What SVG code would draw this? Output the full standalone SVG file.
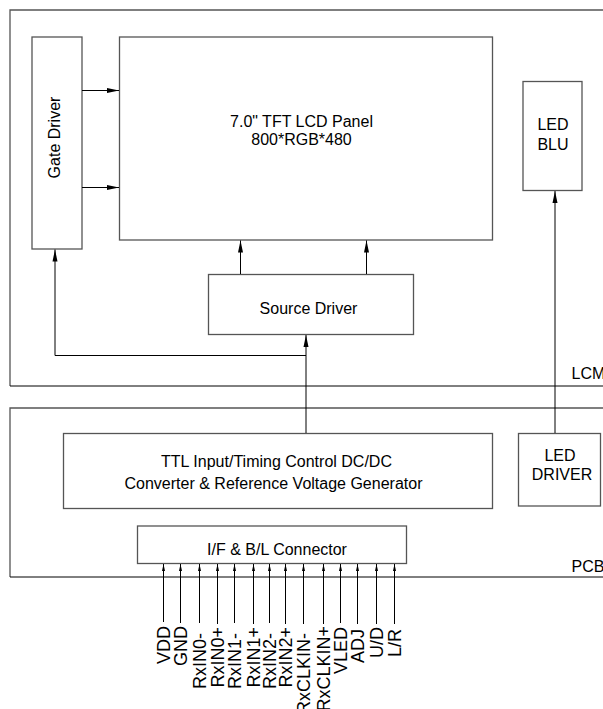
<svg xmlns="http://www.w3.org/2000/svg" width="603" height="709" viewBox="0 0 603 709">
<style>
.box{fill:#fff;stroke:#555;stroke-width:1.3}
.frame{fill:none;stroke:#555;stroke-width:1.3}
.ln{fill:none;stroke:#000;stroke-width:1}
.t{font-family:"Liberation Sans",Arial,sans-serif;font-size:16px;fill:#000}
.p{font-family:"Liberation Sans",Arial,sans-serif;font-size:18px;fill:#000;text-anchor:end}
.m{text-anchor:middle}
</style>
<defs>
<marker id="a" markerUnits="userSpaceOnUse" markerWidth="13" markerHeight="6" refX="12" refY="3" orient="auto">
<path d="M0,0.5 L12,3 L0,5.5 z" fill="#000"/>
</marker>
<marker id="s" markerUnits="userSpaceOnUse" markerWidth="8" markerHeight="4" refX="7" refY="2" orient="auto">
<path d="M0,0.5 L7,2 L0,3.5 z" fill="#000"/>
</marker>
</defs>
<rect width="603" height="709" fill="#fff"/>
<g id="lcm">
<path class="frame" d="M620,10 H10 V386"/>
<line x1="10" y1="386" x2="620" y2="386" stroke="#000" stroke-width="1"/>
<text class="t" x="571.5" y="379">LCM</text>
</g>
<g id="pcb">
<path class="frame" d="M620,408 H10 V577"/>
<line x1="10" y1="577" x2="620" y2="577" stroke="#000" stroke-width="1"/>
<text class="t" x="571.5" y="572">PCB</text>
</g>
<g id="gate-driver">
<rect class="box" x="32" y="37" width="50" height="212"/>
<text class="t m" transform="translate(60,137.5) rotate(-90)">Gate Driver</text>
</g>
<g id="panel">
<rect class="box" x="119.5" y="37" width="373" height="203"/>
<text class="t m" x="301.5" y="126.5">7.0" TFT LCD Panel</text>
<text class="t m" x="301.5" y="145">800*RGB*480</text>
</g>
<g id="led-blu">
<rect class="box" x="523" y="81.5" width="59" height="109"/>
<text class="t m" x="553" y="130">LED</text>
<text class="t m" x="553" y="150">BLU</text>
</g>
<g id="source-driver">
<rect class="box" x="208.5" y="274.5" width="205" height="60"/>
<text class="t m" x="308.5" y="314">Source Driver</text>
</g>
<g id="ttl">
<rect class="box" x="63.5" y="433.5" width="429" height="75"/>
<text class="t m" x="276.5" y="466.5">TTL Input/Timing Control DC/DC</text>
<text class="t m" x="273.5" y="488.5">Converter &amp; Reference Voltage Generator</text>
</g>
<g id="led-driver">
<rect class="box" x="518.5" y="433.5" width="82" height="72.5"/>
<text class="t m" x="560" y="461">LED</text>
<text class="t m" x="562" y="480">DRIVER</text>
</g>
<g id="connector">
<rect class="box" x="137.5" y="526" width="269" height="37.5"/>
<text class="t m" x="277" y="555">I/F &amp; B/L Connector</text>
</g>
<g id="connectors">
<line class="ln" x1="82" y1="90.5" x2="119" y2="90.5" marker-end="url(#a)"/>
<line class="ln" x1="82" y1="187.5" x2="119" y2="187.5" marker-end="url(#a)"/>
<line class="ln" x1="240.5" y1="274" x2="240.5" y2="240.5" marker-end="url(#a)"/>
<line class="ln" x1="366.5" y1="274" x2="366.5" y2="240.5" marker-end="url(#a)"/>
<line class="ln" x1="306" y1="433" x2="306" y2="335" marker-end="url(#a)"/>
<path class="ln" d="M306,355.5 H55 V249.5" marker-end="url(#a)"/>
<line class="ln" x1="555" y1="433" x2="555" y2="191" marker-end="url(#a)"/>
<g marker-end="url(#s)">
<line class="ln" x1="163.5" y1="622" x2="163.5" y2="564"/>
<line class="ln" x1="180.5" y1="623" x2="180.5" y2="564"/>
<line class="ln" x1="199.5" y1="623" x2="199.5" y2="564"/>
<line class="ln" x1="217.5" y1="624" x2="217.5" y2="564"/>
<line class="ln" x1="234.5" y1="623" x2="234.5" y2="564"/>
<line class="ln" x1="253.5" y1="624" x2="253.5" y2="564"/>
<line class="ln" x1="269.5" y1="623" x2="269.5" y2="564"/>
<line class="ln" x1="285.5" y1="624" x2="285.5" y2="564"/>
<line class="ln" x1="303.5" y1="624" x2="303.5" y2="564"/>
<line class="ln" x1="323.5" y1="624" x2="323.5" y2="564"/>
<line class="ln" x1="340.5" y1="623" x2="340.5" y2="564"/>
<line class="ln" x1="357.5" y1="624" x2="357.5" y2="564"/>
<line class="ln" x1="376.5" y1="624" x2="376.5" y2="564"/>
<line class="ln" x1="394.5" y1="624" x2="394.5" y2="564"/>
</g>
</g>
<g id="pin-labels">
<text class="p" transform="translate(170,626) rotate(-90)">VDD</text>
<text class="p" transform="translate(187,626) rotate(-90)">GND</text>
<text class="p" transform="translate(206,633) rotate(-90)">RxIN0-</text>
<text class="p" transform="translate(224,627) rotate(-90)">RxIN0+</text>
<text class="p" transform="translate(241,633) rotate(-90)">RxIN1-</text>
<text class="p" transform="translate(260,627) rotate(-90)">RxIN1+</text>
<text class="p" transform="translate(276,633) rotate(-90)">RxIN2-</text>
<text class="p" transform="translate(292,627) rotate(-90)">RxIN2+</text>
<text class="p" transform="translate(310,633) rotate(-90)">RxCLKIN-</text>
<text class="p" transform="translate(330,626) rotate(-90)">RxCLKIN+</text>
<text class="p" transform="translate(347,627) rotate(-90)">VLED</text>
<text class="p" transform="translate(364,629) rotate(-90)">ADJ</text>
<text class="p" transform="translate(383,627) rotate(-90)">U/D</text>
<text class="p" transform="translate(401,629) rotate(-90)">L/R</text>
</g>
</svg>
